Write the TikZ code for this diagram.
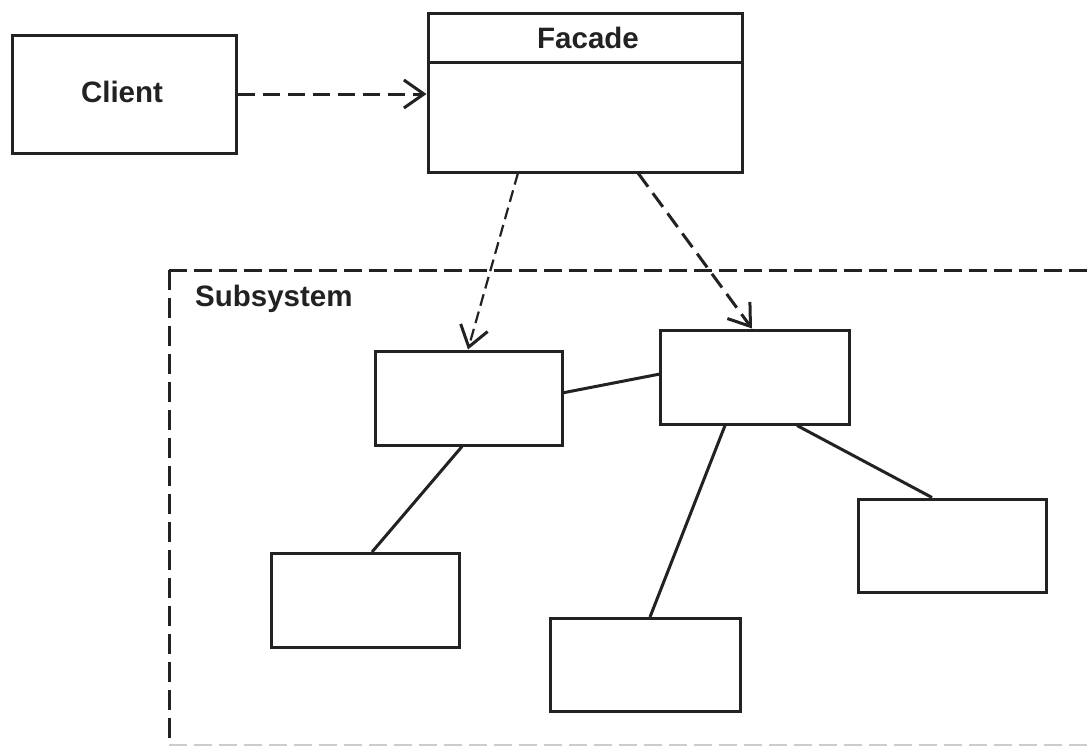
\documentclass[tikz,border=0pt]{standalone}
\usepackage{fontspec}
\setmainfont{Liberation Sans}
\usetikzlibrary{arrows.meta}
\definecolor{ink}{HTML}{222222}
\begin{document}
\begin{tikzpicture}[x=1pt,y=-1pt,
  box/.style={draw=ink,line width=3pt,fill=white,rectangle,inner sep=0pt},
  lbl/.style={font=\fontsize{29.5}{35}\selectfont\bfseries,text=ink,inner sep=0pt},
  dep/.style={draw=ink,line width=3pt,dash pattern=on 17pt off 8pt,
    -{Straight Barb[length=20pt,width=28pt,line width=3pt]}},
  thindep/.style={draw=ink,line width=2.2pt,dash pattern=on 12pt off 6pt,
    -{Straight Barb[length=20pt,width=28pt,line width=3pt]}},
  assoc/.style={draw=ink,line width=3pt}]
\useasboundingbox (0,0) rectangle (1090,745);
\clip (0,0) rectangle (1090,745);
\fill[white] (0,0) rectangle (1090,745);

% subsystem package frame
\draw[ink,line width=3pt,dash pattern=on 18pt off 7pt]
  (169,270) -- (1095,270);
\draw[ink,line width=3pt,dash pattern=on 20pt off 8pt]
  (169,270) -- (169,748);
\draw[gray!40,line width=1.5pt,dash pattern=on 18pt off 7pt]
  (169,745) -- (1095,745);
\node[lbl,anchor=west] (subsys) at (195,299) {Subsystem};

% client and facade
\node[box,minimum width=224pt,minimum height=118pt] (client) at (124,94) {};
\node[lbl] (clientlbl) at (122,92) {Client};
\node[box,minimum width=314pt,minimum height=159pt] (facade) at (585,92.5) {};
\coordinate (divl) at (428,62);
\coordinate (divr) at (742,62);
\draw[ink,line width=3pt] (divl) -- (divr);
\node[lbl] (facadelbl) at (588,38) {Facade};

% subsystem classes
\node[box,minimum width=187pt,minimum height=94pt] (a) at (468.5,398) {};
\node[box,minimum width=189pt,minimum height=94pt] (b) at (754.5,377) {};
\node[box,minimum width=188pt,minimum height=94pt] (c) at (365,600) {};
\node[box,minimum width=190pt,minimum height=93pt] (d) at (645,664.5) {};
\node[box,minimum width=188pt,minimum height=93pt] (e) at (952,545.5) {};

% dependencies
\draw[dep] (client.east) -- (client.east -| facade.west);
\coordinate (fa) at (518,173);
\coordinate (fb) at (638,173);
\draw[thindep] (fa) -- (468,349.5);
\draw[dep] (fb) -- (752,328.5);

% associations
\draw[assoc] (562,393) -- (660,374);
\draw[assoc] (462,446.5) -- (372,552);
\draw[assoc] (725,425.5) -- (650,617);
\draw[assoc] (797,425.5) -- (932,497.5);
\end{tikzpicture}
\end{document}
